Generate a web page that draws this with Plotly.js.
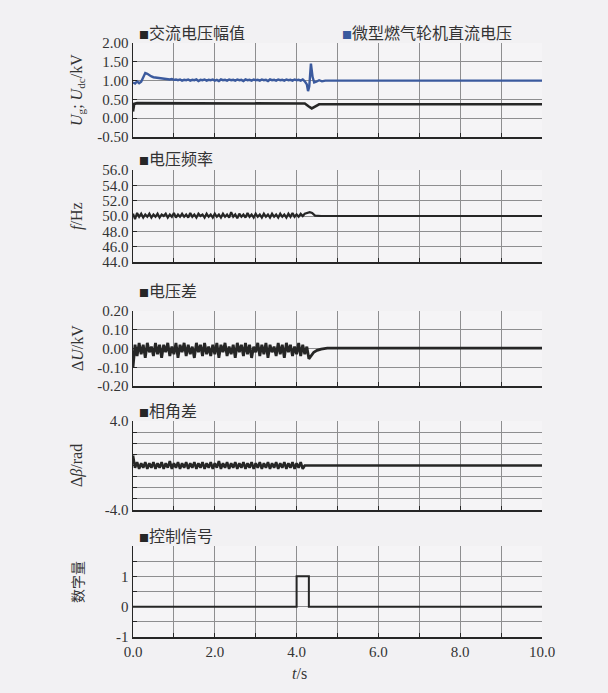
<!DOCTYPE html>
<html><head><meta charset="utf-8">
<script src="https://cdn.plot.ly/plotly-3.0.1.min.js"></script>
<style>html,body{margin:0;padding:0;background:#f2f1f3;}</style>
</head><body>
<div id="chart" style="width:608px;height:693px;"></div>
<script>
// ---- data ----
const tN = [0.00,0.05,0.10,0.15,0.20,0.25,0.30,0.35,0.40,0.45,0.50,0.55,0.60,0.65,0.70,0.75,0.80,0.85,0.90,0.95,
  1.00,1.05,1.10,1.15,1.20,1.25,1.30,1.35,1.40,1.45,1.50,1.55,1.60,1.65,1.70,1.75,1.80,1.85,1.90,1.95,
  2.00,2.05,2.10,2.15,2.20,2.25,2.30,2.35,2.40,2.45,2.50,2.55,2.60,2.65,2.70,2.75,2.80,2.85,2.90,2.95,
  3.00,3.05,3.10,3.15,3.20,3.25,3.30,3.35,3.40,3.45,3.50,3.55,3.60,3.65,3.70,3.75,3.80,3.85,3.90,3.95,
  4.00,4.05,4.10,4.15,4.20,4.25];

// Panel 1: DC voltage of micro gas turbine (blue)
const udcNoise = [0.95,0.92,0.98,0.93,0.97,1.10,1.20,1.18,1.14,1.11,
  1.09,1.08,1.07,1.06,1.05,1.05,1.04,1.04,1.03,1.04,
  1.02,1.03,1.01,1.03,1.00,1.02,1.01,1.03,1.00,1.02,
  1.01,1.03,0.99,1.02,1.01,1.03,1.00,1.02,1.01,1.03,
  1.00,1.02,0.99,1.03,1.01,1.02,1.00,1.03,1.01,1.02,
  1.00,1.03,1.01,1.02,0.99,1.03,1.01,1.02,1.00,1.03,
  1.01,1.02,1.00,1.03,1.01,1.02,0.99,1.03,1.01,1.02,
  1.00,1.03,1.01,1.02,1.00,1.03,1.01,1.02,1.00,1.03,
  1.01,1.02,1.00,1.03,0.98,0.90];
const udcTailT = [4.28,4.31,4.35,4.39,4.43,4.48,4.55,4.62,4.70,10.0];
const udcTailV = [0.72,0.85,1.45,1.10,0.95,0.97,1.01,0.98,1.00,1.00];

// Panel 1: AC voltage amplitude (black)
const ugT = [0.00,0.03,0.10,1.00,2.00,3.00,4.00,4.20,4.30,4.37,4.45,4.55,10.0];
const ugV = [0.18,0.38,0.40,0.40,0.39,0.40,0.39,0.39,0.31,0.26,0.31,0.37,0.37];

// Panel 2: voltage frequency
const fNoise = [50.3,49.6,50.4,49.9,50.3,49.8,50.2,49.9,50.3,49.8,
  50.2,49.9,50.3,49.8,50.2,50.0,50.3,49.8,50.2,49.9,
  50.4,49.8,50.2,49.9,50.3,49.9,50.2,49.8,50.4,49.9,
  50.2,49.8,50.3,50.0,50.2,49.8,50.3,49.9,50.2,49.8,
  50.3,49.9,50.2,49.8,50.3,49.9,50.2,49.8,50.5,49.9,
  50.2,49.7,50.3,49.9,50.2,49.8,50.4,49.9,50.2,49.8,
  50.3,49.9,50.2,49.8,50.3,49.9,50.2,49.8,50.3,49.9,
  50.2,49.8,50.3,49.9,50.2,49.8,50.3,49.9,50.4,49.9,
  50.2,49.9,50.3,50.0,50.3,50.4];
const fTailT = [4.32,4.38,4.45,4.60,10.0];
const fTailV = [50.5,50.4,50.05,50.0,50.0];

// Panel 3: voltage difference
const duNoise = [-0.10,0.02,-0.04,0.03,-0.03,0.02,-0.05,0.03,-0.02,0.01,
  -0.04,0.03,-0.03,0.02,-0.05,0.02,-0.02,0.03,-0.04,0.01,
  -0.03,0.03,-0.05,0.02,-0.02,0.03,-0.04,0.02,-0.03,0.01,
  -0.05,0.03,-0.02,0.02,-0.04,0.03,-0.03,0.01,-0.04,0.02,
  -0.03,0.03,-0.05,0.02,-0.02,0.03,-0.04,0.01,-0.03,0.02,
  -0.05,0.03,-0.02,0.02,-0.04,0.03,-0.03,0.02,-0.05,0.01,
  -0.02,0.03,-0.04,0.02,-0.03,0.03,-0.05,0.02,-0.02,0.01,
  -0.04,0.03,-0.03,0.02,-0.05,0.03,-0.02,0.02,-0.04,0.01,
  -0.03,0.03,-0.04,0.02,-0.03,0.01];
const duTailT = [4.30,4.36,4.42,4.50,4.60,4.75,10.0];
const duTailV = [-0.055,-0.035,-0.02,-0.01,-0.003,0.002,0.002];

// Panel 4: phase angle difference
const bNoise = [0.9,-0.2,0.3,-0.3,0.2,-0.2,0.3,-0.3,0.2,-0.2,
  0.3,-0.3,0.2,-0.2,0.3,-0.3,0.2,-0.2,0.4,-0.3,
  0.2,-0.2,0.3,-0.3,0.2,-0.2,0.3,-0.3,0.2,-0.2,
  0.3,-0.3,0.2,-0.2,0.3,-0.3,0.2,-0.2,0.3,-0.3,
  0.2,-0.2,0.4,-0.3,0.2,-0.2,0.3,-0.3,0.2,-0.2,
  0.3,-0.3,0.2,-0.2,0.3,-0.3,0.2,-0.2,0.3,-0.3,
  0.2,-0.2,0.3,-0.3,0.2,-0.2,0.3,-0.3,0.2,-0.2,
  0.3,-0.3,0.2,-0.2,0.3,-0.3,0.2,-0.2,0.3,-0.3,
  0.2,-0.2,0.3,-0.3,0.0,0.0];
const bTailT = [10.0];
const bTailV = [0.0];

// Panel 5: control signal
const ctlT = [0.0,4.0,4.0,4.3,4.3,10.0];
const ctlV = [0,0,1,1,0,0];

// tick labels
const xTickVals = [0,1,2,3,4,5,6,7,8,9,10];
const xTickText = ['0.0',' ','2.0',' ','4.0',' ','6.0',' ','8.0',' ','10.0'];
const y1Vals = [-0.5,0,0.5,1.0,1.5,2.0];
const y1Text = ['-0.50','0.00','0.50','1.00','1.50','2.00'];
const y2Vals = [44,46,48,50,52,54,56];
const y2Text = ['44.0','46.0','48.0','50.0','52.0','54.0','56.0'];
const y3Vals = [-0.2,-0.1,0,0.1,0.2];
const y3Text = ['-0.20','-0.10','0.00','0.10','0.20'];
const y4Vals = [-4,-3,-2,-1,0,1,2,3,4];
const y4Text = ['-4.0',' ',' ',' ',' ',' ',' ',' ','4.0'];
const y5Vals = [-1,-0.5,0,0.5,1,1.5,2];
const y5Text = ['-1',' ','0',' ','1',' ',' '];
const legendNames = ['交流电压幅值','微型燃气轮机直流电压','电压频率','电压差','相角差','控制信号'];
const yTitles = ['<i>U</i><sub>g</sub>; <i>U</i><sub>dc</sub>/kV','<i>f</i>/Hz','Δ<i>U</i>/kV','Δ<i>β</i>/rad','数字量'];

// ---- styles ----
const W = 608, H = 693;
const INK = '#262626', BLUE = '#3b5a9e', GRID = '#8e8e90', TXT = '#333333';
const serif = 'Liberation Serif, Times New Roman, serif';
const cjk = 'Noto Sans CJK SC, sans-serif';
const xDom = [133/W, 542/W];
const panels = [[43,137],[170,262],[311,386],[421,510],[546,637]];
const yDoms = panels.map(p => [1 - p[1]/H, 1 - p[0]/H]);
const yRanges = [[-0.5,2.0],[44,56],[-0.2,0.2],[-4,4],[-1,2]];
const yVals = [y1Vals,y2Vals,y3Vals,y4Vals,y5Vals];
const yTexts = [y1Text,y2Text,y3Text,y4Text,y5Text];

const cat = (a,b) => a.concat(b);
const traces = [
  {x: ugT, y: ugV, xaxis:'x', yaxis:'y', mode:'lines', line:{color:INK,width:2.6}},
  {x: cat(tN,udcTailT), y: cat(udcNoise,udcTailV), xaxis:'x', yaxis:'y', mode:'lines', line:{color:BLUE,width:2.4}},
  {x: cat(tN,fTailT), y: cat(fNoise,fTailV), xaxis:'x2', yaxis:'y2', mode:'lines', line:{color:INK,width:2.2}},
  {x: cat(tN,duTailT), y: cat(duNoise,duTailV), xaxis:'x3', yaxis:'y3', mode:'lines', line:{color:INK,width:2.8}},
  {x: cat(tN,bTailT), y: cat(bNoise,bTailV), xaxis:'x4', yaxis:'y4', mode:'lines', line:{color:INK,width:2.6}},
  {x: ctlT, y: ctlV, xaxis:'x5', yaxis:'y5', mode:'lines', line:{color:INK,width:2}}
];

const layout = {
  width: W, height: H,
  margin: {l:0,r:0,t:0,b:0},
  paper_bgcolor: '#f2f1f3', plot_bgcolor: '#f5f4f6',
  showlegend: false,
  font: {family: serif, size: 15, color: TXT},
  annotations: []
};
for (let i = 0; i < 5; i++) {
  const s = i === 0 ? '' : String(i+1);
  const last = i === 4;
  layout['xaxis'+s] = {
    domain: xDom, anchor: 'y'+s, range: [0,10], fixedrange: true,
    tickmode: 'array', tickvals: xTickVals, ticktext: xTickText,
    showticklabels: last, ticks: 'inside', ticklen: 4, tickcolor: INK,
    showgrid: true, gridcolor: GRID, gridwidth: 1, zeroline: false,
    showline: true, linecolor: INK, linewidth: 1.5, mirror: false,
    tickfont: {family: serif, size: 15, color: TXT}
  };
  layout['yaxis'+s] = {
    domain: yDoms[i], anchor: 'x'+s, range: yRanges[i], fixedrange: true,
    tickmode: 'array', tickvals: yVals[i], ticktext: yTexts[i],
    ticks: 'inside', ticklen: 4, tickcolor: INK,
    showgrid: true, gridcolor: GRID, gridwidth: 1, zeroline: false,
    showline: true, linecolor: INK, linewidth: 1.5,
    tickfont: {family: serif, size: 15, color: TXT}
  };
}
// panel legends / titles
const mk = (c) => '<span style="color:'+c+';font-size:10px">■</span>';
const legPos = [[137,32,INK],[340,32,BLUE],[137,158,INK],[137,290,INK],[137,410,INK],[137,535,INK]];
legendNames.forEach((n,k) => {
  layout.annotations.push({
    xref:'paper', yref:'paper', x: legPos[k][0]/W, y: 1 - legPos[k][1]/H,
    xanchor:'left', yanchor:'middle', showarrow:false,
    text: mk(legPos[k][2]) + n, font:{family: cjk, size: 16, color: TXT}
  });
});
// y-axis titles
const yTitleY = [90, 216, 348, 466, 582];
yTitles.forEach((t,k) => {
  layout.annotations.push({
    xref:'paper', yref:'paper', x: 77/W, y: 1 - yTitleY[k]/H,
    xanchor:'center', yanchor:'middle', showarrow:false, textangle:-90,
    text: t, font:{family: k===4 ? cjk : serif, size: k===4 ? 14 : 16, color: TXT}
  });
});
// x-axis title
layout.annotations.push({
  xref:'paper', yref:'paper', x: 299/W, y: 1 - 673/H,
  xanchor:'center', yanchor:'middle', showarrow:false,
  text: '<i>t</i>/s', font:{family: serif, size: 16, color: TXT}
});

Plotly.newPlot('chart', traces, layout, {staticPlot: true, displayModeBar: false});
</script>
</body></html>
